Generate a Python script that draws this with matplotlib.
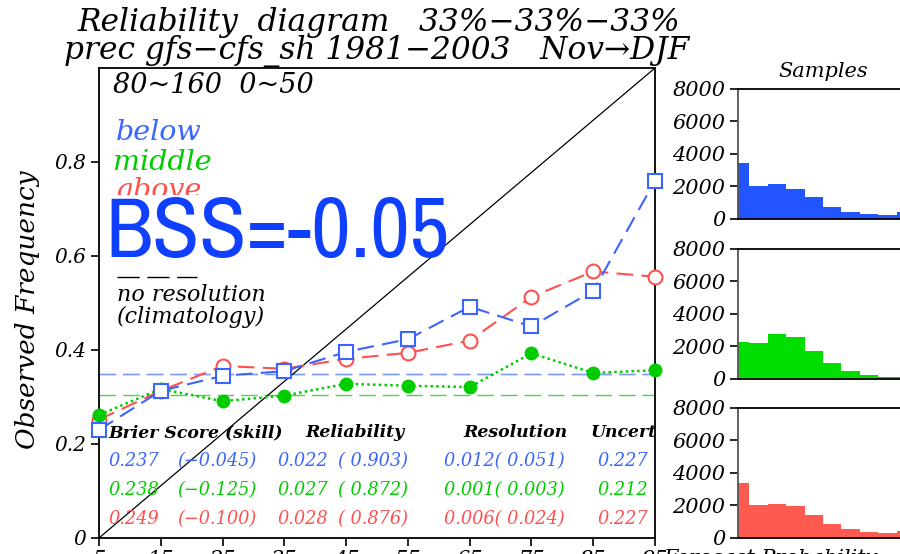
import matplotlib.pyplot as plt
from matplotlib.lines import Line2D
from matplotlib.transforms import Bbox, TransformedBbox

# forecast probability bins (%)
prob = [5, 15, 25, 35, 45, 55, 65, 75, 85, 95]

# observed frequency per category
obs_below = [0.230, 0.313, 0.345, 0.355, 0.396, 0.423, 0.492, 0.450, 0.526, 0.760]
obs_middle = [0.262, 0.317, 0.291, 0.303, 0.328, 0.324, 0.321, 0.393, 0.351, 0.357]
obs_above = [0.252, 0.313, 0.366, 0.360, 0.381, 0.394, 0.420, 0.513, 0.567, 0.556]

# climatology (no resolution) lines
clim_below = 0.349
clim_middle = 0.304
clim_above = 0.349

# sample counts per bin
n_below = [3430, 2030, 2135, 1825, 1335, 760, 450, 290, 230, 450]
n_middle = [2280, 2215, 2745, 2560, 1740, 1000, 470, 245, 150, 100]
n_above = [3360, 2060, 2120, 1980, 1400, 885, 555, 370, 290, 450]

# score table
table_head = ["Brier Score (skill)", "Reliability", "Resolution", "Uncert."]
table_rows = [
    ["0.237", "(-0.045)", "0.022", "( 0.903)", "0.012( 0.051)", "0.227"],
    ["0.238", "(-0.125)", "0.027", "( 0.872)", "0.001( 0.003)", "0.212"],
    ["0.249", "(-0.100)", "0.028", "( 0.876)", "0.006( 0.024)", "0.227"],
]
bss_text = "BSS=-0.05"

yticks = [0, 0.2, 0.4, 0.6, 0.8]
hist_ticks = [0, 2000, 4000, 6000, 8000]

c_below, c_middle, c_above = '#3c64ff', '#00cc00', '#ff5050'
h_below, h_middle, h_above = '#2255ff', '#00dd00', '#ff5a50'

GR = dict(family='DejaVu Serif', style='italic')

fig = plt.figure(figsize=(9, 5.54), dpi=100)

fig.text(0.4206, 1 - 31 / 554, "Reliability  diagram   33%\u221233%\u221233%",
         ha='center', va='baseline', fontsize=22.5, **GR)
fig.text(0.419, 1 - 59 / 554, "prec gfs\u2212cfs_sh 1981\u22122003   Nov\u2192DJF",
         ha='center', va='baseline', fontsize=22.5, **GR)

ax = fig.add_axes([0.11, 0.0289, 0.6178, 0.8484])
ax.set_xlim(prob[0], prob[-1])
ax.set_ylim(0, 1)

# perfect reliability diagonal
ax.plot(ax.get_xlim(), ax.get_ylim(), color='black', lw=0.9, zorder=2)

# climatology lines
ax.axhline(clim_above, color='#ff8080', lw=1.0, dashes=(12, 5), zorder=1)
ax.axhline(clim_middle, color='#4cd44c', lw=1.0, dashes=(12, 5), zorder=1)
ax.axhline(clim_below, color='#7a9aff', lw=1.0, dashes=(12, 5), zorder=1)

ax.plot(prob, obs_above, color=c_above, lw=1.5, dashes=(8, 4), marker='o',
        ms=10, mfc='white', mec=c_above, mew=1.5, zorder=3, clip_on=False)
ax.plot(prob, obs_middle, color=c_middle, lw=1.8, ls=(0, (1, 1.3)), marker='o',
        ms=9, mfc=c_middle, mec=c_middle, zorder=4, clip_on=False)
ax.plot(prob, obs_below, color=c_below, lw=1.5, dashes=(8, 4), marker='s',
        ms=10.5, mfc='white', mec=c_below, mew=1.5, zorder=5, clip_on=False)

ax.set_xticks(prob)
ax.set_xticklabels([str(p) for p in prob], fontsize=15, **GR)
ax.set_yticks(yticks)
ax.set_yticklabels([f"{v:g}" for v in yticks], fontsize=14.5, **GR)
ax.tick_params(direction='out', length=6, width=1.2, pad=3)
for s in ax.spines.values():
    s.set_linewidth(1.3)

fig.text(28 / 900, 1 - 310 / 554, "Observed Frequency", rotation=90,
         ha='center', va='center', fontsize=19, **GR)

# legend texts
ax.text(0.025, 0.947, "80~160  0~50", transform=ax.transAxes, fontsize=19.5, **GR)
ax.text(0.031, 0.847, "below", color=c_below, transform=ax.transAxes, fontsize=20.5, **GR)
ax.text(0.025, 0.783, "middle", color=c_middle, transform=ax.transAxes, fontsize=20.5, **GR)
t_above = ax.text(0.031, 0.723, "above", color=c_above, transform=ax.transAxes,
                  fontsize=20.5, **GR)
t_above.set_clip_box(TransformedBbox(Bbox([[0, 0.73], [1, 1]]), ax.transAxes))
t_above.set_clip_on(True)

ax.text(0.011, 0.598, bss_text, color='#1040ff', transform=ax.transAxes,
        fontsize=62, family=['Archivo Narrow', 'Noto Sans'], zorder=6)

ax.add_line(Line2D([0.032, 0.176], [0.555, 0.555], transform=ax.transAxes,
                   color='black', lw=1.0, dashes=(16, 5.5)))
ax.text(0.032, 0.504, "no resolution", transform=ax.transAxes, fontsize=16, **GR)
ax.text(0.032, 0.457, "(climatology)", transform=ax.transAxes, fontsize=16, **GR)

# score table
head_x = [0.0162, 0.3705, 0.6547, 0.8849]
for hx, h in zip(head_x, table_head):
    ax.text(hx, 0.215, h, transform=ax.transAxes, fontsize=12.4,
            fontweight='bold', clip_on=True, **GR)
col_x = [0.0162, 0.1403, 0.3201, 0.4299, 0.6206, 0.8957]
for y, row, c in zip([0.153, 0.0915, 0.030], table_rows, [c_below, c_middle, c_above]):
    for cx, cell in zip(col_x, row):
        ax.text(cx, y, cell.replace('-', '\u2212'), color=c, transform=ax.transAxes,
                fontsize=12.8, clip_on=True, **GR)

fig.text(663 / 900, 1 - 549 / 554, "Forecast Probability", va='top',
         fontsize=15, **GR)

# sample histograms
hist_bottoms = [0.6047, 0.3159, 0.0289]
for hb, counts, col in zip(hist_bottoms, [n_below, n_middle, n_above],
                           [h_below, h_middle, h_above]):
    hax = fig.add_axes([0.82, hb, 0.1967, 0.2347])
    hax.bar(prob, counts, width=10, color=col, edgecolor='none')
    hax.set_xlim(3.9, 100)
    hax.set_ylim(0, 8000)
    hax.set_xticks([])
    hax.set_yticks(hist_ticks)
    hax.set_yticklabels([str(t) for t in hist_ticks], fontsize=15, **GR)
    hax.tick_params(direction='out', length=6, width=1.2, pad=3)
    hax.spines['left'].set_color('#555555')
    for s in hax.spines.values():
        s.set_linewidth(1.3)

fig.text(823 / 900, 1 - 77 / 554, "Samples", ha='center', va='baseline',
         fontsize=15, **GR)

fig.savefig('out.png', dpi=100)
